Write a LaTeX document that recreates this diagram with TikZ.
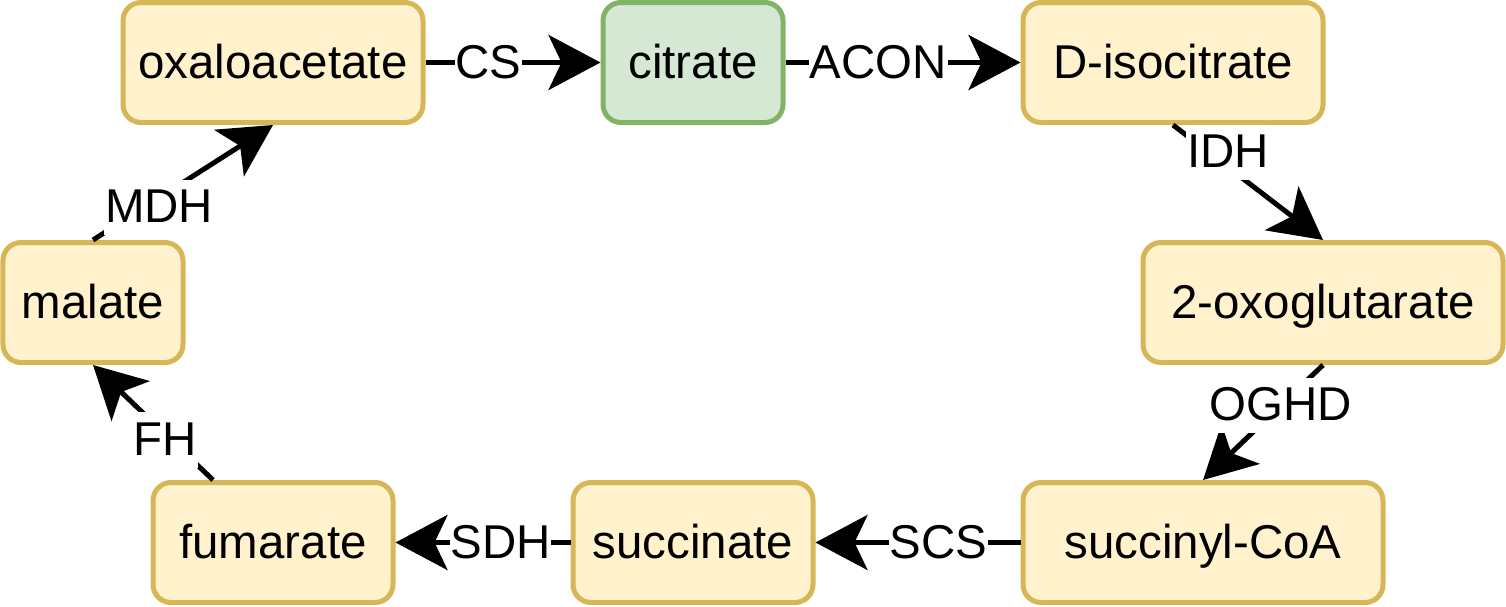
\documentclass[tikz,border=0pt]{standalone}
\usepackage{fontspec}
\setmainfont{Liberation Sans}
\usepackage{tikz}
\usetikzlibrary{arrows.meta,positioning}
\definecolor{metfill}{HTML}{FFF2CC}
\definecolor{metdraw}{HTML}{D6B656}
\definecolor{citfill}{HTML}{D5E8D4}
\definecolor{citdraw}{HTML}{82B366}

\begin{document}
\begin{tikzpicture}[
  met/.style={rectangle, rounded corners=0.36cm, draw=metdraw, line width=0.1cm, fill=metfill,
    minimum height=2.4cm, text height=21.6pt, text depth=3.8pt, font=\fontsize{27}{32}\selectfont},
  enz/.style={fill=white, inner xsep=0.5pt, inner ysep=3pt,
    text height=21.6pt, text depth=3.8pt, font=\fontsize{27}{32}\selectfont},
  arr/.style={-{Stealth[length=1.04cm, width=1.1cm, inset=0.26cm]}, line width=0.1cm}
]
\useasboundingbox (0,0) rectangle (30.12,-12.12);
\node[met, minimum width=6cm] (oaa) at (5.46,-1.25) {oxaloacetate};
\node[met, minimum width=3.6cm, draw=citdraw, fill=citfill, right=3.5cm of oaa] (cit) {citrate};
\node[met, minimum width=6cm, right=4.7cm of cit] (iso) {D-isocitrate};
\node[met, minimum width=7.2cm, below=2.3cm of iso, xshift=3cm] (oxo) {2-oxoglutarate};
\node[met, minimum width=7.2cm, below=2.3cm of oxo, xshift=-2.4cm] (sca) {succinyl-CoA};
\node[met, minimum width=4.8cm, left=4.1cm of sca] (suc) {succinate};
\node[met, minimum width=4.8cm, left=3.5cm of suc] (fum) {fumarate};
\node[met, minimum width=3.6cm, above=2.3cm of fum, xshift=-3.6cm] (mal) {malate};

\draw[arr] (oaa) -- node[enz, pos=0.36] {CS} (cit);
\draw[arr] (cit) -- node[enz, pos=0.394] {ACON} (iso);
\draw[arr] (iso.south) -- node[enz, pos=0.367, yshift=0.3cm] {IDH} (oxo.north);
\draw[arr] (oxo.south) -- node[enz, pos=0.35] {OGHD} (sca.north);
\draw[arr] (sca) -- node[enz, pos=0.4] {SCS} (suc);
\draw[arr] (suc) -- node[enz, pos=0.4] {SDH} (fum);
\draw[arr] ([xshift=-1.2cm]fum.north) -- node[enz, pos=0.396, yshift=-0.11cm] {FH} (mal.south);
\draw[arr] (mal.north) -- node[enz, pos=0.368, yshift=-0.19cm] {MDH} (oaa.south);
\end{tikzpicture}
\end{document}
